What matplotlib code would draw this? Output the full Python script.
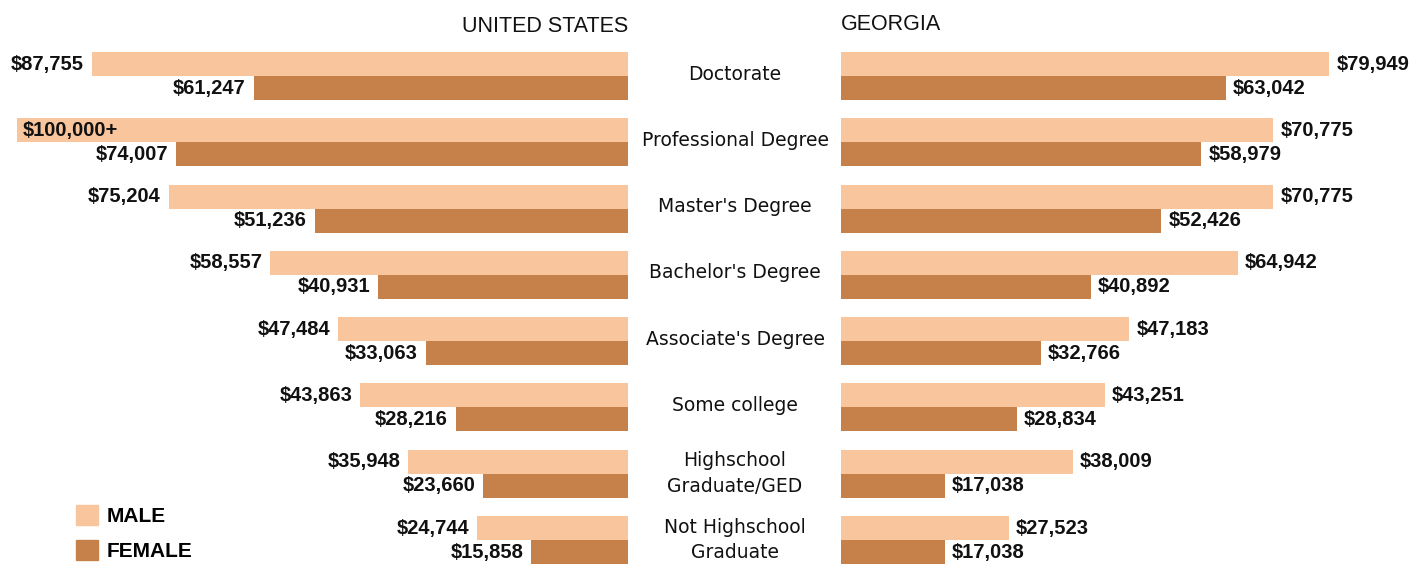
import matplotlib.pyplot as plt
import matplotlib.transforms as mtransforms
from matplotlib.patches import Patch

categories = ["Doctorate", "Professional Degree", "Master's Degree", "Bachelor's Degree",
              "Associate's Degree", "Some college", "Highschool\nGraduate/GED",
              "Not Highschool\nGraduate"]
us_male = [87755, 100000, 75204, 58557, 47484, 43863, 35948, 24744]
us_female = [61247, 74007, 51236, 40931, 33063, 28216, 23660, 15858]
us_male_labels = ["$87,755", "$100,000+", "$75,204", "$58,557", "$47,484", "$43,863", "$35,948", "$24,744"]
ga_male = [79949, 70775, 70775, 64942, 47183, 43251, 38009, 27523]
ga_female = [63042, 58979, 52426, 40892, 32766, 28834, 17038, 17038]

MALE_C = "#f8c59c"
FEMALE_C = "#c6814b"
NUM_FONT = ["Liberation Sans", "DejaVu Sans"]
CAT_FONT = ["DejaVu Sans"]
TITLE_FONT = ["Liberation Sans", "DejaVu Sans"]

W, H = 1425, 565
fig = plt.figure(figsize=(W / 100, H / 100), dpi=100)

px_per_val = 6.108 / 1000
ax_l = fig.add_axes([0, 0, 628 / W, 1])
ax_r = fig.add_axes([841 / W, 0, (W - 841) / W, 1])
ax_l.set_xlim(628 / px_per_val, 0)
ax_r.set_xlim(0, (W - 841) / px_per_val)

pitch = 66.29
for ax in (ax_l, ax_r):
    ax.set_ylim((H - 76) / pitch, -76 / pitch)
    ax.axis("off")

bh = 24 / pitch
ys = list(range(len(categories)))
ym = [y - bh / 2 for y in ys]
yf = [y + bh / 2 for y in ys]

ax_l.barh(ym, us_male, height=bh, color=MALE_C)
ax_l.barh(yf, us_female, height=bh, color=FEMALE_C)
ax_r.barh(ym, ga_male, height=bh, color=MALE_C)
ax_r.barh(yf, ga_female, height=bh, color=FEMALE_C)

off_l = mtransforms.ScaledTranslation(-8 / 100, 0, fig.dpi_scale_trans)
off_in = mtransforms.ScaledTranslation(5 / 100, 0, fig.dpi_scale_trans)
off_r = mtransforms.ScaledTranslation(7 / 100, 0, fig.dpi_scale_trans)
lbl = dict(fontsize=14.5, fontweight="bold", family=NUM_FONT, va="center", color="#111111")

for i in ys:
    if us_male[i] >= 100000:
        ax_l.text(us_male[i], ym[i], us_male_labels[i], ha="left",
                  transform=ax_l.transData + off_in, **lbl)
    else:
        ax_l.text(us_male[i], ym[i], us_male_labels[i], ha="right",
                  transform=ax_l.transData + off_l, **lbl)
    ax_l.text(us_female[i], yf[i], f"${us_female[i]:,}", ha="right",
              transform=ax_l.transData + off_l, **lbl)
    ax_r.text(ga_male[i], ym[i], f"${ga_male[i]:,}", ha="left",
              transform=ax_r.transData + off_r, **lbl)
    ax_r.text(ga_female[i], yf[i], f"${ga_female[i]:,}", ha="left",
              transform=ax_r.transData + off_r, **lbl)

# category names sit in the gap between the two panels
cat_tr = mtransforms.blended_transform_factory(fig.transFigure, ax_l.transData)
for i, c in enumerate(categories):
    shift = 0.0 if "\n" in c else -0.03
    fig.text(735 / W, i + shift, c, transform=cat_tr, ha="center", va="center",
             fontsize=13.5, family=CAT_FONT, color="#111111", linespacing=1.45)

fig.text(628 / W, 1 - 27 / H, "UNITED STATES", ha="right", va="center",
         fontsize=15.5, family=TITLE_FONT, color="#111111")
fig.text(841 / W, 1 - 24 / H, "GEORGIA", ha="left", va="center",
         fontsize=15.5, family=TITLE_FONT, color="#111111")

handles = [Patch(color=MALE_C, label="MALE"), Patch(color=FEMALE_C, label="FEMALE")]
fig.legend(handles=handles, loc="upper left", bbox_to_anchor=(76 / W, 1 - 505 / H),
           frameon=False, borderpad=0, borderaxespad=0, handlelength=1.06,
           handleheight=1.1, handletextpad=0.43, labelspacing=0.65,
           prop=dict(family=TITLE_FONT, weight="bold", size=15))

fig.savefig("out.png", dpi=100)
